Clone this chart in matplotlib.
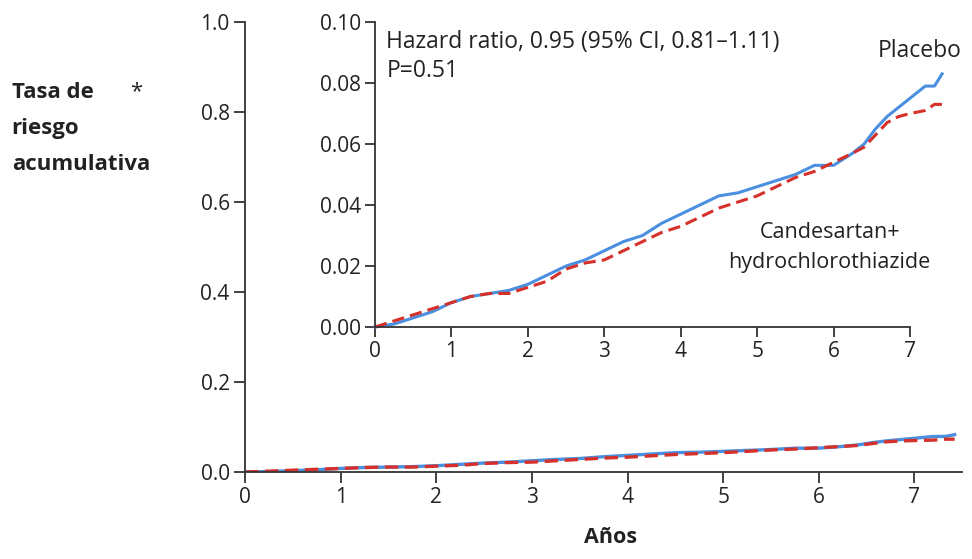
import matplotlib
matplotlib.use('Agg')
import matplotlib.pyplot as plt

plt.rcParams['font.family'] = ['Open Sans', 'DejaVu Sans']

# Datos - tasa de riesgo acumulativa por año
anos = [0, 0.25, 0.5, 0.75, 1.0, 1.25, 1.5, 1.75, 2.0, 2.25, 2.5, 2.75,
        3.0, 3.25, 3.5, 3.75, 4.0, 4.25, 4.5, 4.75, 5.0, 5.25, 5.5, 5.75,
        6.0, 6.25, 6.4, 6.55, 6.7, 6.85, 7.0, 7.2, 7.32, 7.42]
placebo = [0, 0.001, 0.003, 0.005, 0.008, 0.010, 0.011, 0.012, 0.014, 0.017,
           0.020, 0.022, 0.025, 0.028, 0.030, 0.034, 0.037, 0.040, 0.043,
           0.044, 0.046, 0.048, 0.050, 0.053, 0.053, 0.057, 0.060, 0.065,
           0.069, 0.072, 0.075, 0.079, 0.079, 0.083]
candesartan = [0, 0.002, 0.004, 0.006, 0.008, 0.010, 0.011, 0.011, 0.013,
               0.015, 0.019, 0.021, 0.022, 0.025, 0.028, 0.031, 0.033, 0.036,
               0.039, 0.041, 0.043, 0.046, 0.049, 0.051, 0.054, 0.057, 0.059,
               0.063, 0.067, 0.069, 0.070, 0.071, 0.073, 0.073]

ticks_x = [0, 1, 2, 3, 4, 5, 6, 7]
ticks_main_y = [0.0, 0.2, 0.4, 0.6, 0.8, 1.0]
ticks_ins_y = [0.00, 0.02, 0.04, 0.06, 0.08, 0.10]
lineas_ylabel = ['Tasa de', 'riesgo', 'acumulativa']

c_azul = '#4a8fe0'
c_rojo = '#d6302a'
c_txt = '#222222'

fig = plt.figure(figsize=(9.72, 5.59), dpi=100)

# Gráfico principal
ax = fig.add_axes([0.252, 0.1556, 0.738, 0.805])
ax.plot(anos, placebo, color=c_azul, lw=2.4)
ax.plot(anos, candesartan, color=c_rojo, lw=2.4, ls=(0, (4, 2)))
ax.set_xlim(0, 7.5)
ax.set_ylim(0, 1.0)
ax.set_xticks(ticks_x)
ax.set_yticks(ticks_main_y)
ax.set_yticklabels(['%.1f' % v for v in ticks_main_y])
for s in ['top', 'right']:
    ax.spines[s].set_visible(False)
for s in ['left', 'bottom']:
    ax.spines[s].set_color('#333333')
    ax.spines[s].set_linewidth(1.3)
ax.tick_params(direction='out', length=8, width=1.3, colors='#333333',
               labelsize=15, labelcolor=c_txt, pad=3)
ax.set_xlabel('Años', fontsize=15.5, fontweight='bold', color=c_txt)
ax.xaxis.set_label_coords(0.51, -0.122)

# Etiqueta del eje Y en tres líneas
for i, linea in enumerate(lineas_ylabel):
    fig.text(0.012, 1 - (92 + 36.5 * i) / 559, linea, fontsize=16, fontweight='bold',
             color=c_txt, va='center', ha='left')
fig.text(0.134, 1 - 92 / 559, '*', fontsize=16, color=c_txt, va='center', ha='left')

# Gráfico interno (zoom)
ins = fig.add_axes([0.3858, 0.415, 0.5504, 0.5456])
ins.patch.set_alpha(0)
ins.plot(anos, placebo, color=c_azul, lw=2.2, clip_on=False)
ins.plot(anos, candesartan, color=c_rojo, lw=2.2, ls=(0, (4, 2)), clip_on=False)
ins.set_xlim(0, 7)
ins.set_ylim(0, 0.10)
ins.set_xticks(ticks_x)
ins.set_yticks(ticks_ins_y)
ins.set_yticklabels(['%.2f' % v for v in ticks_ins_y])
for s in ['top', 'right']:
    ins.spines[s].set_visible(False)
for s in ['left', 'bottom']:
    ins.spines[s].set_color('#333333')
    ins.spines[s].set_linewidth(1.3)
ins.tick_params(direction='out', length=7, width=1.3, colors='#333333',
                labelsize=15, labelcolor=c_txt, pad=3)

ins.text(0.15, 0.0975, 'Hazard ratio, 0.95 (95% CI, 0.81\u20131.11)\nP=0.51',
         fontsize=16.5, color=c_txt, va='top', ha='left', linespacing=1.3)
ins.text(7.13, 0.0945, 'Placebo', fontsize=16.5, color=c_txt, ha='center', va='top')
ins.text(5.95, 0.0345, 'Candesartan+\nhydrochlorothiazide', fontsize=15.5, color=c_txt,
         ha='center', va='top', linespacing=1.55)

fig.savefig('out.png', dpi=100)
